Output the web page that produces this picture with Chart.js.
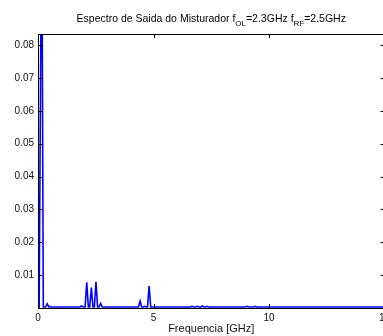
<!DOCTYPE html>
<html>
<head>
<meta charset="utf-8">
<script src="https://cdn.jsdelivr.net/npm/chart.js@4/dist/chart.umd.min.js"></script>
<style>
  body { margin: 0; background: #fff; }
  #wrap { width: 383px; height: 336px; overflow: hidden; position: relative; }
</style>
</head>
<body>
<div id="wrap"><canvas id="spectrum" width="400" height="336"></canvas></div>
<script>
// spectrum (GHz, amplitude)
const freqGHz = [
  0.00, 0.05, 0.08, 0.16, 0.23, 0.33, 0.40, 0.47, 0.52, 0.57,
  1.82, 1.89, 1.96, 2.04, 2.11, 2.18, 2.24, 2.31, 2.38, 2.44, 2.51, 2.58, 2.64, 2.71, 2.78,
  4.35, 4.42, 4.49, 4.55, 4.62, 4.69, 4.74, 4.81, 4.88,
  6.60, 6.67, 6.74, 6.84, 6.91, 6.98, 7.05, 7.12, 7.19, 7.25, 7.32, 7.39,
  8.98, 9.05, 9.12, 9.33, 9.40, 9.47, 15.0
];
const amplitude = [
  0.0006, 0.0003, 0.0003, 0.128, 0.0003, 0.0003, 0.0013, 0.0003, 0.0005, 0.0003,
  0.0003, 0.0006, 0.0003, 0.0003, 0.0078, 0.0003, 0.0003, 0.0062, 0.0003, 0.0003, 0.0080, 0.0003, 0.0003, 0.0014, 0.0003,
  0.0003, 0.0021, 0.0003, 0.0003, 0.0005, 0.0003, 0.0003, 0.0067, 0.0003,
  0.0003, 0.0005, 0.0003, 0.0003, 0.0005, 0.0003, 0.0003, 0.0006, 0.0003, 0.0003, 0.0005, 0.0003,
  0.0003, 0.0005, 0.0003, 0.0003, 0.0005, 0.0003, 0.0003
];
const xTicks = [0, 5, 10, 15];
const yTicks = [0.01, 0.02, 0.03, 0.04, 0.05, 0.06, 0.07, 0.08];

const FONT = '"Liberation Sans", Arial, Helvetica, sans-serif';

// matlab-like box with inward ticks + title with subscripts
const boxPlugin = {
  id: "box",
  afterDraw(chart) {
    const { ctx, chartArea: a, scales } = chart;
    const len = 4;
    ctx.save();
    ctx.strokeStyle = "#000";
    ctx.lineWidth = 1;
    ctx.beginPath();
    ctx.moveTo(a.left, a.top + 0.5);
    ctx.lineTo(a.right, a.top + 0.5);
    ctx.moveTo(a.right - 0.5, a.top);
    ctx.lineTo(a.right - 0.5, a.bottom);
    xTicks.forEach(v => {
      const x = Math.round(scales.x.getPixelForValue(v)) + 0.5;
      ctx.moveTo(x, a.bottom);
      ctx.lineTo(x, a.bottom - len);
      ctx.moveTo(x, a.top);
      ctx.lineTo(x, a.top + len);
    });
    yTicks.forEach(v => {
      const y = Math.round(scales.y.getPixelForValue(v)) + 0.5;
      ctx.moveTo(a.left, y);
      ctx.lineTo(a.left + len, y);
      ctx.moveTo(a.right, y);
      ctx.lineTo(a.right - len, y);
    });
    ctx.stroke();

    const parts = [
      ["Espectro de Saida do Misturador f", false],
      ["OL", true],
      ["=2.3GHz f", false],
      ["RF", true],
      ["=2.5GHz", false]
    ];
    const big = "10.5px " + FONT;
    const small = "8px " + FONT;
    let total = 0;
    parts.forEach(p => {
      ctx.font = p[1] ? small : big;
      total += ctx.measureText(p[0]).width;
    });
    let x = (a.left + a.right) / 2 - total / 2;
    ctx.fillStyle = "#000";
    ctx.textBaseline = "alphabetic";
    ctx.textAlign = "left";
    parts.forEach(p => {
      ctx.font = p[1] ? small : big;
      ctx.fillText(p[0], x, p[1] ? 26 : 22);
      x += ctx.measureText(p[0]).width;
    });
    ctx.restore();
  }
};

new Chart(document.getElementById("spectrum"), {
  type: "scatter",
  data: {
    datasets: [{
      data: freqGHz.map((f, i) => ({ x: f, y: amplitude[i] })),
      showLine: true,
      borderColor: "#0000ff",
      borderWidth: 1.6,
      pointRadius: 0,
      tension: 0
    }]
  },
  options: {
    responsive: false,
    animation: false,
    layout: { padding: { top: 34, right: 15.5, left: 0, bottom: 0 } },
    plugins: { legend: { display: false }, tooltip: { enabled: false } },
    scales: {
      x: {
        type: "linear",
        min: 0,
        max: 15,
        afterFit: s => { s.height = 28; },
        afterBuildTicks: s => { s.ticks = xTicks.map(v => ({ value: v })); },
        grid: { display: false, drawTicks: false },
        border: { display: true, color: "#000", width: 1 },
        ticks: { padding: 4, color: "#111", font: { family: FONT, size: 10 }, maxRotation: 0 },
        title: { display: true, text: "Frequencia [GHz]", color: "#111", padding: { top: 0, bottom: 0 }, font: { family: FONT, size: 11 } }
      },
      y: {
        type: "linear",
        min: 0,
        max: 0.0834,
        afterFit: s => { s.width = 38; },
        afterBuildTicks: s => { s.ticks = yTicks.map(v => ({ value: v })); },
        grid: { display: false, drawTicks: false },
        border: { display: true, color: "#000", width: 1 },
        ticks: { padding: 4, color: "#111", font: { family: FONT, size: 10 }, callback: v => String(v) }
      }
    }
  },
  plugins: [boxPlugin]
});
</script>
</body>
</html>
